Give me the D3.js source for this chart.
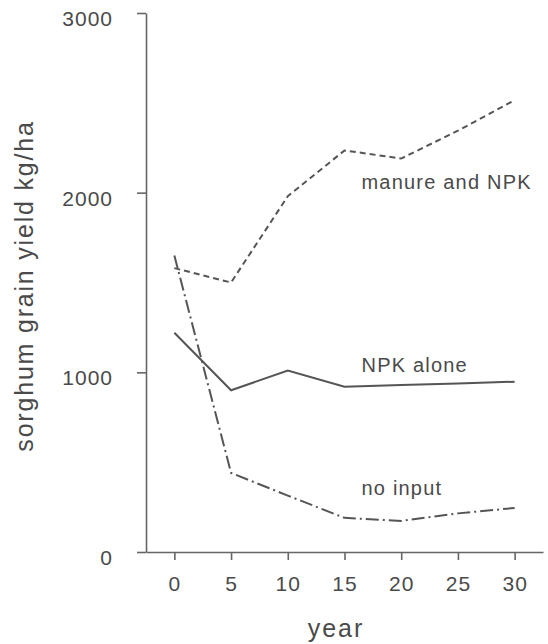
<!DOCTYPE html>
<html>
<head>
<meta charset="utf-8">
<script src="https://cdn.jsdelivr.net/npm/d3@7"></script>
<style>
  body { margin: 0; background: #fff; }
  text { font-family: "Liberation Sans", Arial, sans-serif; fill: #4a4a4a; }
</style>
</head>
<body>
<div id="viz"></div>
<script>
// data
const years = [0, 5, 10, 15, 20, 25, 30];
const manureNPK = [1580, 1500, 1980, 2235, 2190, 2345, 2515];
const npkAlone = [1220, 900, 1010, 920, 929, 938, 948];
const noInput = [1650, 440, 314, 190, 173, 215, 245];
const yTicks = [0, 1000, 2000, 3000];
const seriesNames = ["manure and NPK", "NPK alone", "no input"];
// where each label sits, in data units
const labelPos = [[16.5, 2020], [16.5, 1002], [16.5, 317]];

const width = 548, height = 644;
const ink = "#555";

const svg = d3.select("#viz")
    .append("svg")
        .attr("width", width)
        .attr("height", height);

// scales
const x = d3.scaleLinear()
    .domain([-2.5, 32.5])
    .range([146, 543]);
const y = d3.scaleLinear()
    .domain([0, 3000])
    .range([552, 13]);

// X axis
const xAxis = svg.append("g")
    .attr("transform", `translate(0, ${y(0)})`)
    .call(d3.axisBottom(x).tickValues(years).tickSize(8).tickSizeOuter(0).tickPadding(16));

// Y axis
const yAxis = svg.append("g")
    .attr("transform", `translate(${x(-2.5)}, 0)`)
    .call(d3.axisLeft(y).tickValues(yTicks).tickFormat(d3.format("d"))
        .tickSize(9).tickSizeOuter(0).tickPadding(24));

svg.selectAll(".domain, .tick line")
    .attr("stroke", "#666")
    .attr("stroke-width", 1.6);
svg.selectAll(".tick text")
    .attr("fill", "#4a4a4a")
    .style("font-size", "21px")
    .style("letter-spacing", "1px");
yAxis.selectAll(".tick text").attr("dy", "0.6em");

// Lines
const line = d3.line()
    .x((d, i) => x(years[i]))
    .y(d => y(d));

const series = [
    { values: manureNPK, dash: "6,4" },
    { values: npkAlone, dash: null },
    { values: noInput, dash: "13,4,2,4" }
];

svg.selectAll(".series")
    .data(series)
    .join("path")
        .attr("class", "series")
        .attr("fill", "none")
        .attr("stroke", ink)
        .attr("stroke-width", 2)
        .attr("stroke-dasharray", d => d.dash)
        .attr("d", d => line(d.values));

// series labels
svg.selectAll(".lab")
    .data(seriesNames)
    .join("text")
        .attr("class", "lab")
        .attr("x", (d, i) => x(labelPos[i][0]))
        .attr("y", (d, i) => y(labelPos[i][1]))
        .style("font-size", "20px")
        .style("letter-spacing", "1.2px")
        .text(d => d);

// axis titles
svg.append("text")
    .attr("x", 336)
    .attr("y", 637)
    .attr("text-anchor", "middle")
    .style("font-size", "25px")
    .style("letter-spacing", "2px")
    .text("year");

svg.append("text")
    .attr("transform", "translate(33, 286) rotate(-90)")
    .attr("text-anchor", "middle")
    .style("font-size", "25px")
    .style("letter-spacing", "1.8px")
    .text("sorghum grain yield kg/ha");
</script>
</body>
</html>
